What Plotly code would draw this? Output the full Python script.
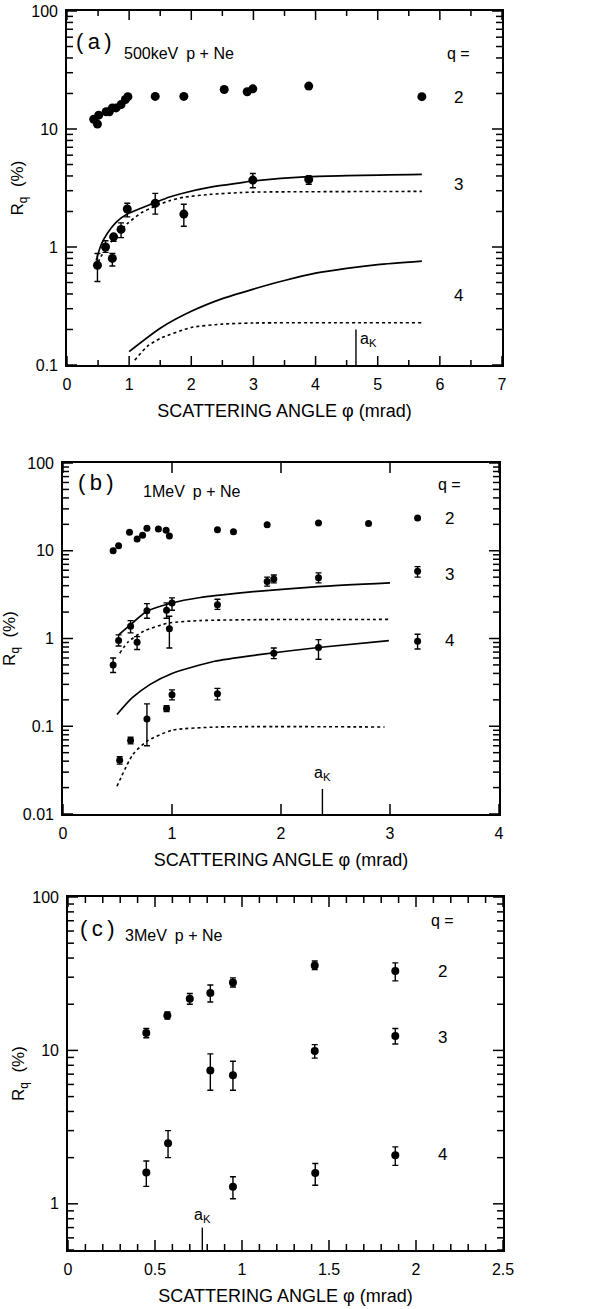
import math
import plotly.graph_objects as go

# ---------------- data ----------------
# (a) 500 keV p + Ne
a_q2_x = [0.43, 0.49, 0.51, 0.63, 0.68, 0.73, 0.79, 0.87, 0.94, 0.98, 1.42, 1.88, 2.53, 2.90, 2.99, 3.89, 5.71]
a_q2_y = [12.1, 11.0, 13.1, 14.0, 14.0, 15.1, 15.1, 16.1, 17.8, 18.8, 18.9, 18.9, 21.6, 20.7, 21.9, 23.1, 18.8]

a_q3_x = [0.49, 0.62, 0.73, 0.75, 0.87, 0.97, 1.42, 1.88, 2.99, 3.89]
a_q3_y = [0.70, 1.00, 0.80, 1.22, 1.41, 2.10, 2.35, 1.90, 3.69, 3.74]
a_q3_hi = [0.88, 1.13, 0.88, 1.28, 1.60, 2.35, 2.85, 2.30, 4.20, 4.00]
a_q3_lo = [0.51, 0.90, 0.69, 1.12, 1.20, 1.80, 1.90, 1.50, 3.18, 3.40]

a_q3_fit_x = [0.47, 0.55, 0.65, 0.79, 0.97, 1.2, 1.42, 1.65, 1.88, 2.33, 2.79, 3.0, 3.89, 5.71]
a_q3_fit_y = [0.77, 1.05, 1.31, 1.62, 1.90, 2.14, 2.38, 2.65, 2.87, 3.23, 3.50, 3.63, 3.95, 4.13]
a_q3_alt_x = [0.50, 0.60, 0.74, 0.97, 1.2, 1.42, 1.65, 1.88, 2.33, 2.79, 3.0, 5.71]
a_q3_alt_y = [0.74, 0.93, 1.16, 1.58, 1.95, 2.22, 2.47, 2.64, 2.80, 2.89, 2.92, 2.96]

a_q4_fit_x = [1.0, 1.5, 2.0, 2.5, 3.0, 3.5, 4.0, 4.5, 5.0, 5.71]
a_q4_fit_y = [0.13, 0.205, 0.285, 0.365, 0.44, 0.52, 0.60, 0.66, 0.71, 0.76]
a_q4_alt_x = [1.09, 1.3, 1.5, 2.0, 2.5, 3.0, 5.71]
a_q4_alt_y = [0.11, 0.145, 0.168, 0.208, 0.222, 0.227, 0.228]

a_ak_x = 4.65
a_ak_y = [0.1, 0.2]

# (b) 1 MeV p + Ne
b_q2_x = [0.46, 0.51, 0.61, 0.68, 0.73, 0.77, 0.875, 0.946, 0.976, 1.417, 1.564, 1.873, 2.344, 2.803, 3.253]
b_q2_y = [10.0, 11.4, 16.2, 13.6, 15.0, 18.0, 17.7, 17.1, 14.7, 17.4, 16.5, 19.8, 20.7, 20.5, 23.6]

b_q3_x = [0.46, 0.51, 0.62, 0.68, 0.77, 0.95, 0.976, 1.0, 1.417, 1.873, 1.934, 2.344, 3.253]
b_q3_y = [0.50, 0.95, 1.38, 0.905, 2.07, 2.10, 1.29, 2.54, 2.43, 4.45, 4.76, 4.93, 5.84]
b_q3_hi = [0.60, 1.10, 1.60, 1.05, 2.50, 2.55, 1.79, 2.90, 2.80, 5.00, 5.30, 5.60, 6.60]
b_q3_lo = [0.41, 0.82, 1.16, 0.75, 1.70, 1.70, 0.78, 2.10, 2.15, 3.95, 4.30, 4.30, 5.00]

b_q4_x = [0.52, 0.62, 0.77, 0.95, 1.0, 1.417, 1.934, 2.344, 3.253]
b_q4_y = [0.041, 0.069, 0.121, 0.159, 0.228, 0.235, 0.68, 0.79, 0.93]
b_q4_hi = [0.045, 0.075, 0.18, 0.172, 0.26, 0.27, 0.78, 0.97, 1.12]
b_q4_lo = [0.037, 0.063, 0.06, 0.147, 0.20, 0.20, 0.59, 0.58, 0.76]

b_q3_fit_x = [0.51, 0.62, 0.77, 1.0, 1.26, 1.42, 1.78, 2.34, 3.0]
b_q3_fit_y = [1.10, 1.44, 2.04, 2.54, 2.93, 3.10, 3.45, 3.90, 4.30]
b_q3_alt_x = [0.52, 0.60, 0.74, 0.97, 1.26, 1.78, 3.0]
b_q3_alt_y = [0.68, 0.92, 1.21, 1.50, 1.60, 1.64, 1.65]

b_q4_fit_x = [0.495, 0.633, 0.8, 1.0, 1.39, 1.78, 2.344, 2.99]
b_q4_fit_y = [0.136, 0.21, 0.30, 0.40, 0.55, 0.65, 0.79, 0.946]
b_q4_alt_x = [0.495, 0.64, 0.77, 1.0, 1.417, 2.95]
b_q4_alt_y = [0.0207, 0.0475, 0.0676, 0.090, 0.098, 0.098]

b_ak_x = 2.38
b_ak_y = [0.01, 0.0193]

# (c) 3 MeV p + Ne
c_q2_x = [0.45, 0.571, 0.70, 0.818, 0.948, 1.418, 1.881]
c_q2_y = [13.0, 16.9, 21.7, 23.7, 27.7, 35.8, 32.9]
c_q2_hi = [13.9, 17.8, 23.5, 26.7, 29.7, 38.3, 37.2]
c_q2_lo = [12.1, 16.0, 20.0, 20.7, 25.9, 33.6, 28.4]

c_q3_x = [0.818, 0.948, 1.418, 1.881]
c_q3_y = [7.4, 6.9, 9.9, 12.4]
c_q3_hi = [9.5, 8.5, 10.9, 13.9]
c_q3_lo = [5.5, 5.5, 8.9, 11.0]

c_q4_x = [0.45, 0.575, 0.948, 1.421, 1.881]
c_q4_y = [1.6, 2.48, 1.29, 1.59, 2.07]
c_q4_hi = [1.9, 3.0, 1.5, 1.83, 2.35]
c_q4_lo = [1.3, 2.0, 1.08, 1.32, 1.78]

c_ak_x = 0.772
c_ak_y = [0.5, 0.70]

# ---------------- figure ----------------
W, H = 608, 1309
FONT = "Liberation Sans, Arial, Helvetica, sans-serif"
INK = "#000000"

fig = go.Figure()


def errs(y, hi, lo):
    return [h - v for v, h in zip(y, hi)], [v - l for v, l in zip(y, lo)]


def points(ax, x, y, size, hi=None, lo=None):
    kw = {}
    if hi is not None:
        plus, minus = errs(y, hi, lo)
        kw["error_y"] = dict(type="data", symmetric=False, array=plus, arrayminus=minus,
                             color=INK, thickness=1.4, width=3)
    fig.add_trace(go.Scatter(x=x, y=y, mode="markers", xaxis="x" + ax, yaxis="y" + ax,
                             marker=dict(color=INK, size=size, line=dict(width=0)),
                             showlegend=False, **kw))


def curve(ax, x, y, dash="solid", width=1.7):
    fig.add_trace(go.Scatter(x=x, y=y, mode="lines", xaxis="x" + ax, yaxis="y" + ax,
                             line=dict(color=INK, width=width, dash=dash, shape="spline", smoothing=0.6),
                             showlegend=False, hoverinfo="skip"))


def marker_line(ax, xv, ys):
    fig.add_trace(go.Scatter(x=[xv, xv], y=ys, mode="lines", xaxis="x" + ax, yaxis="y" + ax,
                             line=dict(color=INK, width=1.4), showlegend=False, hoverinfo="skip"))


# panel (a)
points("", a_q2_x, a_q2_y, 9)
points("", a_q3_x, a_q3_y, 9, a_q3_hi, a_q3_lo)
curve("", a_q3_fit_x, a_q3_fit_y)
curve("", a_q3_alt_x, a_q3_alt_y, "dot", 1.6)
curve("", a_q4_fit_x, a_q4_fit_y)
curve("", a_q4_alt_x, a_q4_alt_y, "dot", 1.6)
marker_line("", a_ak_x, a_ak_y)

# panel (b)
points("2", b_q2_x, b_q2_y, 7)
points("2", b_q3_x, b_q3_y, 7, b_q3_hi, b_q3_lo)
points("2", b_q4_x, b_q4_y, 7, b_q4_hi, b_q4_lo)
curve("2", b_q3_fit_x, b_q3_fit_y)
curve("2", b_q3_alt_x, b_q3_alt_y, "dot", 1.6)
curve("2", b_q4_fit_x, b_q4_fit_y)
curve("2", b_q4_alt_x, b_q4_alt_y, "dot", 1.6)
marker_line("2", b_ak_x, b_ak_y)

# panel (c)
points("3", c_q2_x, c_q2_y, 8, c_q2_hi, c_q2_lo)
points("3", c_q3_x, c_q3_y, 8, c_q3_hi, c_q3_lo)
points("3", c_q4_x, c_q4_y, 8, c_q4_hi, c_q4_lo)
marker_line("3", c_ak_x, c_ak_y)


def px_dom(a, b):
    return [a / W, b / W]


def ydom(top, bottom):
    return [1 - bottom / H, 1 - top / H]


def log_major(lo_exp, hi_exp):
    return [10 ** e for e in range(lo_exp, hi_exp + 1)]


def log_minor(lo_exp, hi_exp, start=None):
    vals = [m * 10 ** e for e in range(lo_exp, hi_exp) for m in range(2, 10)]
    if start is not None:
        vals = [v for v in vals if v > start * 0.999]
    return vals


def lin_ticks(lo, hi, step):
    n = int(round((hi - lo) / step))
    return [round(lo + i * step, 6) for i in range(n + 1)]


def lin_minor(lo, hi, step, major):
    return [v for v in lin_ticks(lo, hi, step) if abs(v / major - round(v / major)) > 1e-6]


def frame_ticks(ax, xdom, ydm, xrng, yrng, xsets, ysets):
    """Short inward tick marks on all four sides of a log-y panel, one segment per tick."""
    wpx = (xdom[1] - xdom[0]) * W
    hpx = (ydm[1] - ydm[0]) * H
    x0, x1 = xrng
    r0, r1 = yrng
    for (xv, xln), (yv, yln) in zip(xsets, ysets):
        dy = xln / hpx * (r1 - r0)
        dx = yln / wpx * (x1 - x0)
        segs = []
        for v in xv:
            segs.append(([v, v], [10 ** r0, 10 ** (r0 + dy)]))
            segs.append(([v, v], [10 ** (r1 - dy), 10 ** r1]))
        for v in yv:
            segs.append(([x0, x0 + dx], [v, v]))
            segs.append(([x1 - dx, x1], [v, v]))
        for sx, sy in segs:
            fig.add_trace(go.Scatter(x=sx, y=sy, mode="lines", xaxis="x" + ax, yaxis="y" + ax,
                                     line=dict(color=INK, width=1.5),
                                     showlegend=False, hoverinfo="skip"))


tickfont = dict(family=FONT, size=16, color=INK)
xtitlefont = dict(family=FONT, size=18, color=INK)
ytitlefont = dict(family=FONT, size=17, color=INK)
xtitle = "SCATTERING ANGLE \u03c6 (mrad)"
plain = dict(showgrid=False, zeroline=False)


def xaxis(dom, yanchor, rng, dtick):
    return dict(domain=dom, anchor=yanchor, range=rng, tickmode="linear", dtick=dtick, tick0=0,
                showline=True, linecolor=INK, linewidth=1.6, mirror=True,
                ticks="", tickfont=tickfont, ticklabelstandoff=4,
                title=dict(text=xtitle, font=xtitlefont, standoff=12), **plain)


def yaxis(dom, xanchor, lo_exp, hi_exp, rng=None):
    majors = log_major(lo_exp, hi_exp)
    return dict(domain=dom, anchor=xanchor, type="log",
                range=rng if rng else [lo_exp, hi_exp],
                tickmode="array", tickvals=majors, ticktext=[("%g" % v) for v in majors],
                showline=True, linecolor=INK, linewidth=1.6, mirror=True,
                ticks="", tickfont=tickfont, ticklabelstandoff=4,
                title=dict(text="R<sub>q</sub>\u00a0\u00a0(%)", font=ytitlefont, standoff=3), **plain)


xa, xb, xc = px_dom(67, 502), px_dom(63, 499), px_dom(68, 503)
ya, yb, yc = ydom(11, 365), ydom(463, 814), ydom(897, 1250)
yc_rng = [math.log10(0.5), 2]

frame_ticks("", xa, ya, [0, 7], [-1, 2],
            [(lin_ticks(0, 7, 1), 9), (lin_minor(0, 7, 0.5, 1), 5)],
            [(log_major(-1, 2), 10), (log_minor(-1, 2), 6)])
frame_ticks("2", xb, yb, [0, 4], [-2, 2],
            [(lin_ticks(0, 4, 1), 10), ([], 5)],
            [(log_major(-2, 2), 10), (log_minor(-2, 2), 6)])
frame_ticks("3", xc, yc, [0, 2.5], yc_rng,
            [(lin_ticks(0, 2.5, 0.5), 10), (lin_minor(0, 2.5, 0.1, 0.5), 6)],
            [(log_major(0, 2), 10), (log_minor(-1, 2, start=0.5), 6)])

fig.update_layout(
    template="none",
    width=W, height=H, margin=dict(l=0, r=0, t=0, b=0),
    paper_bgcolor="white", plot_bgcolor="white",
    font=dict(family=FONT, size=14, color=INK),
    xaxis=xaxis(xa, "y", [0, 7], 1),
    yaxis=yaxis(ya, "x", -1, 2),
    xaxis2=xaxis(xb, "y2", [0, 4], 1),
    yaxis2=yaxis(yb, "x2", -2, 2),
    xaxis3=xaxis(xc, "y3", [0, 2.5], 0.5),
    yaxis3=yaxis(yc, "x3", 0, 2, rng=yc_rng),
)

# text labels inside the panels
ann = []


def label(ax, x, y, text, size=16, xanchor="center"):
    ann.append(dict(xref="x" + ax, yref="y" + ax, x=x, y=math.log10(y), text=text,
                    showarrow=False, xanchor=xanchor, yanchor="middle",
                    font=dict(family=FONT, size=size, color=INK)))


SP = "\u2002"
# panel (a)
label("", 0.12, 55, "(\u2009a\u2009)", 22, "left")
label("", 0.88, 44, "500keV" + SP + "p + Ne", 16, "left")
label("", 6.3, 44, "q =", 16)
label("", 6.3, 18.4, "2", 17)
label("", 6.3, 3.4, "3", 17)
label("", 6.3, 0.39, "4", 17)
label("", a_ak_x + 0.04, 0.165, "a<sub>K</sub>", 16, "left")

# panel (b)
label("2", 0.12, 60, "(\u2009b\u2009)", 22, "left")
label("2", 0.72, 47, "1MeV" + SP + "p + Ne", 16, "left")
label("2", 3.55, 57, "q =", 16)
label("2", 3.55, 23.6, "2", 17)
label("2", 3.55, 5.3, "3", 17)
label("2", 3.55, 0.95, "4", 17)
label("2", b_ak_x, 0.029, "a<sub>K</sub>", 16)

# panel (c)
label("3", 0.06, 62, "(\u2009c\u2009)", 22, "left")
label("3", 0.315, 56, "3MeV" + SP + "p + Ne", 16, "left")
label("3", 2.155, 70, "q =", 16)
label("3", 2.155, 32.9, "2", 17)
label("3", 2.155, 12.2, "3", 17)
label("3", 2.155, 2.1, "4", 17)
label("3", c_ak_x, 0.84, "a<sub>K</sub>", 16)

fig.update_layout(annotations=ann)

fig.write_html("out.html")
